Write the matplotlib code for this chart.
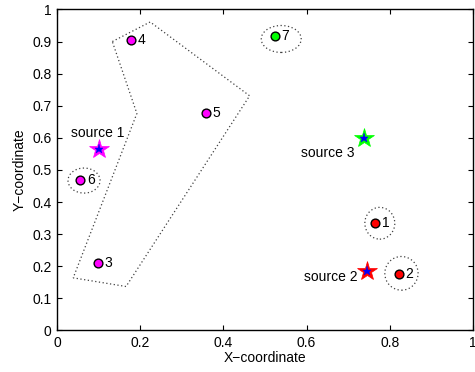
import matplotlib
matplotlib.use("Agg")
import matplotlib.pyplot as plt
from matplotlib.patches import Ellipse, Polygon

plt.rcParams['font.family'] = ['Liberation Sans', 'DejaVu Sans']

# Sensor points
pt_labels = ['1', '2', '3', '4', '5', '6', '7']
pt_x = [0.765, 0.821, 0.098, 0.178, 0.358, 0.055, 0.523]
pt_y = [0.336, 0.177, 0.209, 0.906, 0.676, 0.469, 0.916]
pt_colors = ['#ff0000', '#ff0000', '#ff00ff', '#ff00ff', '#ff00ff', '#ff00ff', '#00ff00']

# Sources
src_labels = ['source 1', 'source 2', 'source 3']
src_x = [0.101, 0.745, 0.738]
src_y = [0.565, 0.186, 0.601]
src_colors = ['#ff00ff', '#ff0000', '#00ff00']

# Cluster polygon (dotted)
poly_x = [0.133, 0.224, 0.463, 0.166, 0.039, 0.192]
poly_y = [0.900, 0.961, 0.731, 0.137, 0.164, 0.676]

# Dotted ellipses around single clusters: center x, center y, width, height
ell_cx = [0.776, 0.828, 0.065, 0.539]
ell_cy = [0.334, 0.178, 0.467, 0.908]
ell_w = [0.072, 0.080, 0.077, 0.096]
ell_h = [0.099, 0.105, 0.078, 0.084]

fig = plt.figure(figsize=(4.75, 3.72), dpi=100)
ax = fig.add_axes([0.12, 0.1116, 0.8758, 0.863])

dot = dict(linestyle=(0, (1, 2)), linewidth=0.9, edgecolor='0.25', facecolor='none')
ax.add_patch(Polygon(list(zip(poly_x, poly_y)), closed=True, **dot))
for cx, cy, w, h in zip(ell_cx, ell_cy, ell_w, ell_h):
    ax.add_patch(Ellipse((cx, cy), w, h, **dot))

for x, y, c, lab in zip(pt_x, pt_y, pt_colors, pt_labels):
    ax.plot(x, y, 'o', ms=6.3, mfc=c, mec='k', mew=1.0, zorder=5)
    ax.annotate(lab, (x, y), xytext=(5, 0), textcoords='offset points',
                ha='left', va='center', fontsize=10)

src_offsets = [(-1, 11.5, 'center'), (-6.5, -4.8, 'right'), (-6.5, -11, 'right')]
for x, y, c, lab, (dx, dy, ha) in zip(src_x, src_y, src_colors, src_labels, src_offsets):
    ax.plot(x, y, '*', ms=15, mfc=c, mec=c, mew=0.5, zorder=6)
    ax.plot(x, y, '*', ms=6.5, mfc='#0000ff', mec='#0000ff', mew=0.3, zorder=7)
    ax.annotate(lab, (x, y), xytext=(dx, dy), textcoords='offset points',
                ha=ha, va='center', fontsize=10)

ax.set_xlim(0, 1)
ax.set_ylim(0, 1)
ax.set_xticks([0, 0.2, 0.4, 0.6, 0.8, 1])
ax.set_xticklabels(['0', '0.2', '0.4', '0.6', '0.8', '1'])
ax.set_yticks([0, 0.1, 0.2, 0.3, 0.4, 0.5, 0.6, 0.7, 0.8, 0.9, 1])
ax.set_yticklabels(['0', '0.1', '0.2', '0.3', '0.4', '0.5', '0.6', '0.7', '0.8', '0.9', '1'])
ax.tick_params(direction='in', length=3.5, width=0.8, top=True, right=True,
               labelsize=10, pad=4)
for s in ax.spines.values():
    s.set_linewidth(1.0)
ax.set_xlabel('X\u2212coordinate', fontsize=10, labelpad=1)
ax.set_ylabel('Y\u2212coordinate', fontsize=10, labelpad=4)

fig.savefig('out.png', dpi=100)
